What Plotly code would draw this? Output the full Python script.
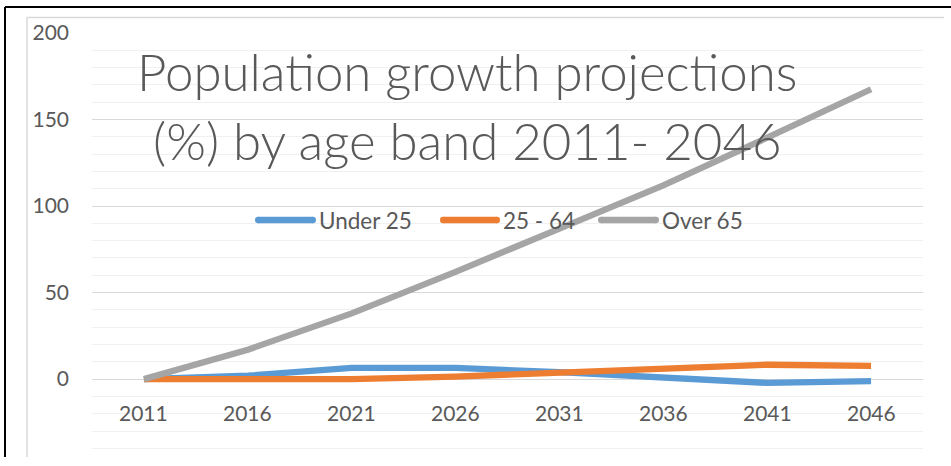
import plotly.graph_objects as go

# ---- data ----
years = ["2011", "2016", "2021", "2026", "2031", "2036", "2041", "2046"]
under_25 = [0, 2, 6.5, 6.5, 4, 0.5, -2.2, -1.2]
age_25_64 = [0, 0, 0, 1.5, 4, 6, 8.3, 7.7]
over_65 = [0, 17, 38, 62, 87, 112, 139.5, 167.5]
series_names = ["Under 25", "25 - 64", "Over 65"]
y_ticks = [0, 50, 100, 150, 200]
title_lines = ["Population growth projections", "(%) by age band 2011- 2046"]

colors = ["#5B9BD5", "#ED7D31", "#A5A5A5"]
W, H = 951, 466
ML, MR, MT, MB = 92, 28, 33, 9
PW, PH = W - ML - MR, H - MT - MB
FONT = "Lato"
TXT = "#595959"


def px(x):
    # figure pixel x -> paper (plot-area) fraction
    return (x - ML) / PW


def py(y):
    # figure pixel y (from top) -> paper (plot-area) fraction
    return (H - MB - y) / PH


fig = go.Figure()
for name, vals, col in zip(series_names, [under_25, age_25_64, over_65], colors):
    fig.add_trace(go.Scatter(x=years, y=vals, mode="lines", name=name,
                             line=dict(color=col, width=6.3), showlegend=False,
                             hoverinfo="skip"))

annotations = []
# x tick labels (category axis labels placed inside plot near zero)
for i, yr in enumerate(years):
    annotations.append(dict(x=i, y=-19, xref="x", yref="y", text=yr,
                            showarrow=False, xanchor="center", yanchor="middle",
                            font=dict(family=FONT, size=21, color=TXT)))

# title lines
title_y = [71, 140]
for t, yy in zip(title_lines, title_y):
    annotations.append(dict(x=px(467), y=py(yy), xref="paper", yref="paper", text=t,
                            showarrow=False, xanchor="center", yanchor="middle",
                            font=dict(family=FONT, size=51, color=TXT, weight=300)))

# manual legend
shapes = []
leg_y = 220
leg_lines = [(255, 316), (440, 500), (598, 659)]
for (x0, x1), name, col in zip(leg_lines, series_names, colors):
    shapes.append(dict(type="line", xref="paper", yref="paper",
                       x0=px(x0 + 3), x1=px(x1 - 3), y0=py(leg_y), y1=py(leg_y),
                       line=dict(color=col, width=6.5)))
    shapes.append(dict(type="circle", xref="paper", yref="paper",
                       x0=px(x0), x1=px(x0 + 6.5), y0=py(leg_y + 3.25), y1=py(leg_y - 3.25),
                       fillcolor=col, line=dict(width=0)))
    shapes.append(dict(type="circle", xref="paper", yref="paper",
                       x0=px(x1 - 6.5), x1=px(x1), y0=py(leg_y + 3.25), y1=py(leg_y - 3.25),
                       fillcolor=col, line=dict(width=0)))
    annotations.append(dict(x=px(x1 + 1), y=py(leg_y), xref="paper", yref="paper",
                            text=name, showarrow=False, xanchor="left", yanchor="middle",
                            font=dict(family=FONT, size=22.5, color=TXT)))

# outer black frame (left + top) and inner grey chart border (left + top)
shapes += [
    dict(type="line", xref="paper", yref="paper", x0=px(5), x1=px(951), y0=py(7), y1=py(7),
         line=dict(color="#000000", width=2)),
    dict(type="line", xref="paper", yref="paper", x0=px(5), x1=px(5), y0=py(7), y1=py(457),
         line=dict(color="#000000", width=2)),
    dict(type="line", xref="paper", yref="paper", x0=px(27), x1=px(944), y0=py(17.5), y1=py(17.5),
         line=dict(color="#d9d9d9", width=1.5)),
    dict(type="line", xref="paper", yref="paper", x0=px(27), x1=px(27), y0=py(17.5), y1=py(457),
         line=dict(color="#d9d9d9", width=1.5)),
]

fig.update_layout(
    width=W, height=H, autosize=False,
    margin=dict(l=ML, r=MR, t=MT, b=MB),
    paper_bgcolor="white", plot_bgcolor="white",
    showlegend=False,
    annotations=annotations,
    shapes=shapes,
    xaxis=dict(type="category", categoryorder="array", categoryarray=years,
               range=[-0.5, 7.5], showticklabels=False, showgrid=False,
               zeroline=False, showline=False, ticks=""),
    yaxis=dict(range=[-45, 200], tickmode="array", tickvals=y_ticks,
               ticktext=[str(v) for v in y_ticks],
               tickfont=dict(family=FONT, size=21, color=TXT),
               showgrid=True, gridcolor="#d9d9d9", gridwidth=1.3,
               zeroline=False, showline=False, ticks="", ticklabelstandoff=22,
               minor=dict(tickmode="linear", tick0=0, dtick=10, showgrid=True,
                          gridcolor="#f0f0f0", gridwidth=1.3, ticks="")),
)

fig.write_html("out.html", config={"displayModeBar": False},
               post_script="document.body.style.margin='0';")
